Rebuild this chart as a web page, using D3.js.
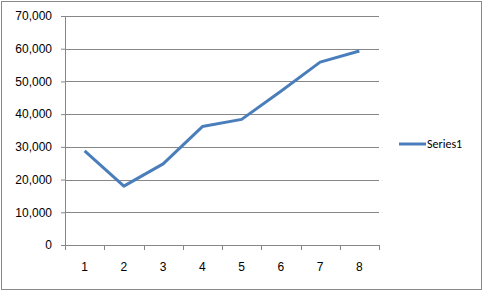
<!DOCTYPE html>
<html>
<head>
<meta charset="utf-8">
<script src="https://cdn.jsdelivr.net/npm/d3@7"></script>
<style>
  body { margin: 0; background: #fff; }
  svg { display: block; font-family: Calibri, Carlito, "Liberation Sans", Arial, sans-serif; }
</style>
</head>
<body>
<div id="chart"></div>
<script>
var categories = ['1', '2', '3', '4', '5', '6', '7', '8'];
var series1 = [28800, 18000, 24800, 36200, 38400, 47000, 55900, 59300];
var yTicks = [0, 10000, 20000, 30000, 40000, 50000, 60000, 70000];
var seriesName = 'Series1';

var width = 484, height = 293;
var pad = {t: 16, r: 105, b: 48, l: 65};

var svg = d3.select('#chart').append('svg')
	.attr('width', width)
	.attr('height', height);

// outer frame
svg.append('rect')
	.attr('x', 1.5).attr('y', 1.5)
	.attr('width', width - 4).attr('height', height - 5)
	.attr('fill', '#fff')
	.attr('stroke', '#898989');

var chartW = width - pad.l - pad.r;
var chartH = height - pad.t - pad.b;

var x = d3.scaleBand().domain(categories).range([0, chartW]);
var y = d3.scaleLinear().domain([0, 70000]).range([chartH, 0]);

var g = svg.append('g')
	.attr('transform', 'translate(' + [pad.l, pad.t] + ')');

// gridlines
g.selectAll('line.grid')
	.data(yTicks.slice(1))
	.enter().append('line')
	.attr('class', 'grid')
	.attr('x1', 0).attr('x2', chartW)
	.attr('y1', function(d) { return Math.round(y(d)) + 0.5; })
	.attr('y2', function(d) { return Math.round(y(d)) + 0.5; })
	.attr('stroke', '#878787');

// y axis
var yAxis = g.append('g')
	.call(d3.axisLeft(y).tickValues(yTicks).tickSize(4).tickPadding(9)
		.tickFormat(d3.format(',')));
yAxis.select('.domain').attr('stroke', '#878787').attr('d', 'M0.5,0V' + chartH);
yAxis.selectAll('.tick line').attr('stroke', '#878787');
yAxis.selectAll('text').attr('font-size', 12).attr('fill', '#000');

// x axis
var xAxis = g.append('g')
	.attr('transform', 'translate(0,' + chartH + ')')
	.call(d3.axisBottom(x).tickSize(0).tickPadding(17));
xAxis.select('.domain').attr('stroke', '#878787').attr('d', 'M0,0.5H' + chartW);
xAxis.selectAll('text').attr('font-size', 12).attr('fill', '#000');

// category boundary ticks
var bounds = categories.map(function(c) { return x(c); }).concat([chartW]);
g.selectAll('line.xtick')
	.data(bounds)
	.enter().append('line')
	.attr('class', 'xtick')
	.attr('x1', function(d) { return Math.round(d) + 0.5; })
	.attr('x2', function(d) { return Math.round(d) + 0.5; })
	.attr('y1', chartH).attr('y2', chartH + 5)
	.attr('stroke', '#878787');

// series line
var line = d3.line()
	.x(function(d, i) { return x(categories[i]) + x.bandwidth() / 2; })
	.y(function(d) { return y(d); });

g.append('path')
	.datum(series1)
	.attr('d', line)
	.attr('fill', 'none')
	.attr('stroke', '#4a7ebb')
	.attr('stroke-width', 3)
	.attr('stroke-linejoin', 'round');

// legend
var legend = svg.append('g')
	.attr('transform', 'translate(399,144)');
legend.append('line')
	.attr('x1', 0).attr('x2', 27)
	.attr('y1', 0).attr('y2', 0)
	.attr('stroke', '#4a7ebb')
	.attr('stroke-width', 3);
legend.append('text')
	.attr('x', 28).attr('y', 4)
	.attr('font-size', 12)
	.text(seriesName);
</script>
</body>
</html>
